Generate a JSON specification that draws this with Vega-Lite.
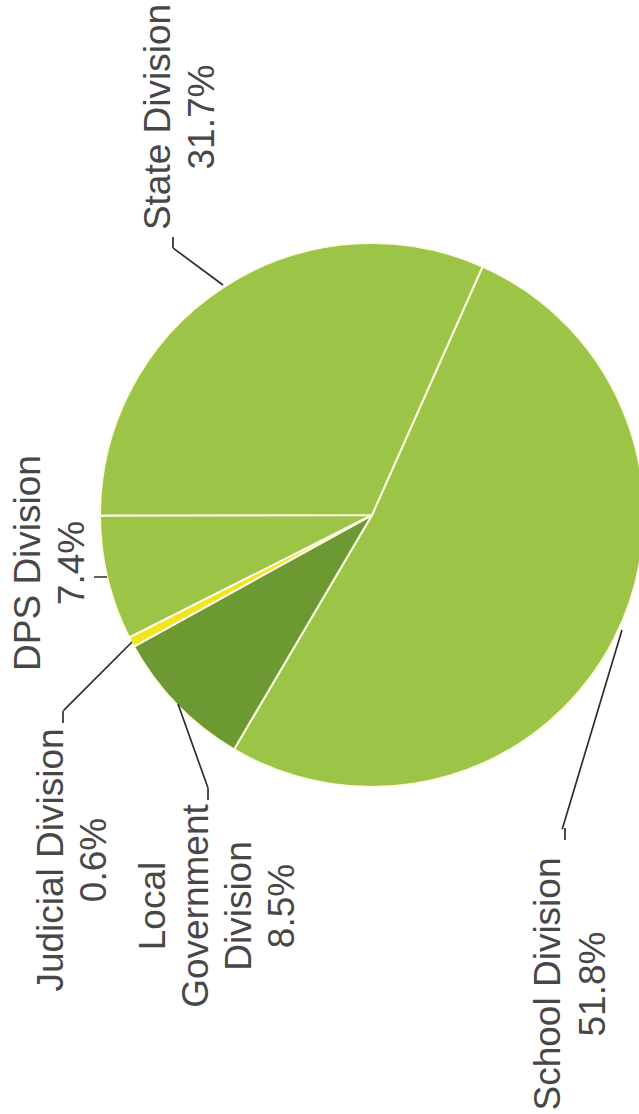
{
  "$schema": "https://vega.github.io/schema/vega-lite/v6.json",
  "width": 534,
  "height": 1030,
  "padding": {"left": 105, "top": 0, "right": 0, "bottom": 84},
  "autosize": {"type": "none"},
  "background": "white",
  "config": {"view": {"stroke": null}},
  "data": {"values": [
    {"division": "School Division", "label": ["School Division", "51.8%"], "share": 51.8, "order": 1},
    {"division": "Local Government Division", "label": ["Local", "Government", "Division", "8.5%"], "share": 8.5, "order": 2},
    {"division": "Judicial Division", "label": ["Judicial Division", "0.6%"], "share": 0.6, "order": 3},
    {"division": "DPS Division", "label": ["DPS Division", "7.4%"], "share": 7.4, "order": 4},
    {"division": "State Division", "label": ["State Division", "31.7%"], "share": 31.7, "order": 5}
  ]},
  "layer": [
    {
      "mark": {"type": "arc", "radius": 272, "stroke": "#fdfbe4", "strokeWidth": 2},
      "encoding": {
        "theta": {"field": "share", "type": "quantitative", "stack": true, "scale": {"domain": [0, 100], "range": [0.41888, 6.70206]}},
        "order": {"field": "order", "type": "quantitative"},
        "color": {"field": "division", "type": "nominal", "legend": null,
          "scale": {"domain": ["School Division", "Local Government Division", "Judicial Division", "DPS Division", "State Division"],
                    "range": ["#9cc548", "#6d9933", "#f2e41e", "#9cc548", "#9cc548"]}}
      }
    },
    {"transform": [{"filter": "datum.division === 'State Division'"}],
     "mark": {"type": "arc", "filled": false, "color": "#2e2e2e", "strokeWidth": 1.7, "theta": -0.934, "theta2": -0.934, "radius": 62, "radius2": 0, "xOffset": -149, "yOffset": -230},
     "encoding": {}},
    {"transform": [{"filter": "datum.division === 'State Division'"}],
     "mark": {"type": "arc", "filled": false, "color": "#2e2e2e", "strokeWidth": 1.7, "theta": 0, "theta2": 0, "radius": 11, "radius2": 0, "xOffset": -199, "yOffset": -267},
     "encoding": {}},
    {"transform": [{"filter": "datum.division === 'DPS Division'"}],
     "mark": {"type": "arc", "filled": false, "color": "#2e2e2e", "strokeWidth": 1.7, "theta": -1.5708, "theta2": -1.5708, "radius": 13, "radius2": 0, "xOffset": -265, "yOffset": 62},
     "encoding": {}},
    {"transform": [{"filter": "datum.division === 'Judicial Division'"}],
     "mark": {"type": "arc", "filled": false, "color": "#2e2e2e", "strokeWidth": 1.7, "theta": -2.356, "theta2": -2.356, "radius": 97, "radius2": 0, "xOffset": -240, "yOffset": 127},
     "encoding": {}},
    {"transform": [{"filter": "datum.division === 'Judicial Division'"}],
     "mark": {"type": "arc", "filled": false, "color": "#2e2e2e", "strokeWidth": 1.7, "theta": 3.1416, "theta2": 3.1416, "radius": 12, "radius2": 0, "xOffset": -309, "yOffset": 196},
     "encoding": {}},
    {"transform": [{"filter": "datum.division === 'Local Government Division'"}],
     "mark": {"type": "arc", "filled": false, "color": "#2e2e2e", "strokeWidth": 1.7, "theta": 2.7986, "theta2": 2.7986, "radius": 89, "radius2": 0, "xOffset": -194, "yOffset": 189},
     "encoding": {}},
    {"transform": [{"filter": "datum.division === 'Local Government Division'"}],
     "mark": {"type": "arc", "filled": false, "color": "#2e2e2e", "strokeWidth": 1.7, "theta": 3.1416, "theta2": 3.1416, "radius": 12, "radius2": 0, "xOffset": -164, "yOffset": 273},
     "encoding": {}},
    {"transform": [{"filter": "datum.division === 'School Division'"}],
     "mark": {"type": "arc", "filled": false, "color": "#2e2e2e", "strokeWidth": 1.7, "theta": -2.85, "theta2": -2.85, "radius": 208, "radius2": 0, "xOffset": 250, "yOffset": 115},
     "encoding": {}},
    {"transform": [{"filter": "datum.division === 'School Division'"}],
     "mark": {"type": "arc", "filled": false, "color": "#2e2e2e", "strokeWidth": 1.7, "theta": 3.1416, "theta2": 3.1416, "radius": 12, "radius2": 0, "xOffset": 193, "yOffset": 313},
     "encoding": {}},
    {"transform": [{"filter": "datum.division === 'State Division'"}],
     "mark": {"type": "text", "angle": 270, "align": "center", "baseline": "middle", "font": "Liberation Sans", "fontSize": 37, "lineHeight": 44, "color": "#474747", "dx": 398, "dy": -213},
     "encoding": {"text": {"field": "label"}}},
    {"transform": [{"filter": "datum.division === 'DPS Division'"}],
     "mark": {"type": "text", "angle": 270, "align": "center", "baseline": "middle", "font": "Liberation Sans", "fontSize": 37, "lineHeight": 44, "color": "#474747", "dx": -48, "dy": -343},
     "encoding": {"text": {"field": "label"}}},
    {"transform": [{"filter": "datum.division === 'Judicial Division'"}],
     "mark": {"type": "text", "angle": 270, "align": "center", "baseline": "middle", "font": "Liberation Sans", "fontSize": 37, "lineHeight": 43, "color": "#474747", "dx": -345, "dy": -320},
     "encoding": {"text": {"field": "label"}}},
    {"transform": [{"filter": "datum.division === 'Local Government Division'"}],
     "mark": {"type": "text", "angle": 270, "align": "center", "baseline": "middle", "font": "Liberation Sans", "fontSize": 37, "lineHeight": 43, "color": "#474747", "dx": -391, "dy": -218},
     "encoding": {"text": {"field": "label"}}},
    {"transform": [{"filter": "datum.division === 'School Division'"}],
     "mark": {"type": "text", "angle": 270, "align": "center", "baseline": "middle", "font": "Liberation Sans", "fontSize": 37, "lineHeight": 45, "color": "#474747", "dx": -469, "dy": 177},
     "encoding": {"text": {"field": "label"}}}
  ]
}
